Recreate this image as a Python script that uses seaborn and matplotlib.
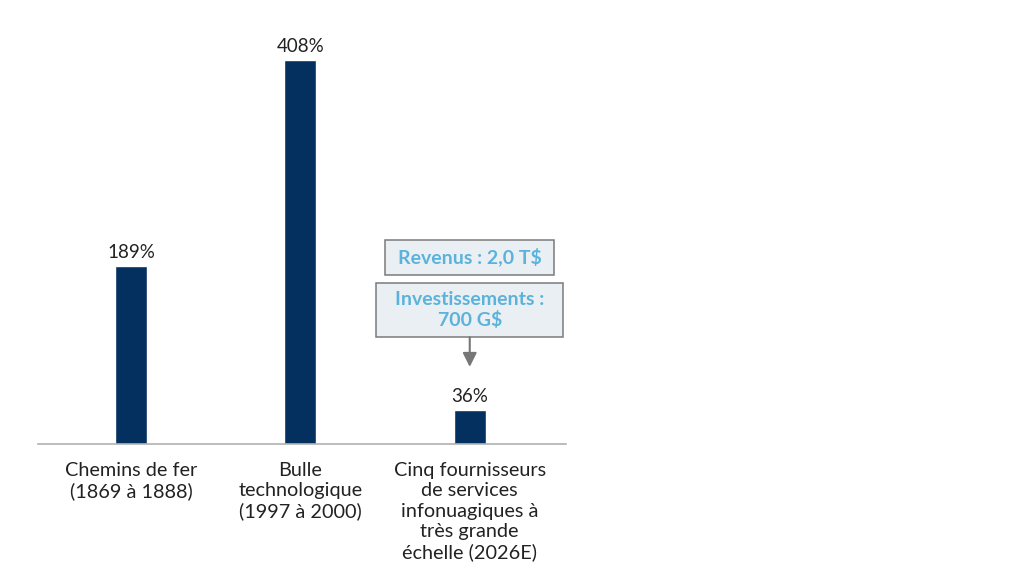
import matplotlib
matplotlib.use("Agg")
import matplotlib.pyplot as plt
from matplotlib.patches import Rectangle
import seaborn as sns
import pandas as pd

categories = ["Chemins de fer\n(1869 à 1888)",
              "Bulle\ntechnologique\n(1997 à 2000)",
              "Cinq fournisseurs\nde services\ninfonuagiques à\ntrès grande\néchelle (2026E)"]
values = [189, 408, 36]
value_labels = ["189%", "408%", "36%"]
box_revenus = "Revenus : 2,0 T$"
box_invest = "Investissements :\n700 G$"

sns.set_theme(style="white")
plt.rcParams['font.family'] = ['Lato', 'DejaVu Sans']

df = pd.DataFrame({"cat": categories, "val": values})

fig = plt.figure(figsize=(10.24, 5.85), dpi=100)
ax = fig.add_axes([0.037, 0.241, 0.516, 0.725])
sns.barplot(data=df, x="cat", y="val", color="#03305f", width=0.19,
            saturation=1, ax=ax)
ax.set_xlim(-0.55, 2.57)
ax.set_ylim(0, 451)
ax.set_xlabel("")
ax.set_ylabel("")
ax.set_yticks([])
for s in ["top", "right", "left"]:
    ax.spines[s].set_visible(False)
ax.spines["bottom"].set_color("#b0b0b0")
ax.spines["bottom"].set_linewidth(1.2)
ax.tick_params(axis="x", length=0, pad=13, labelsize=14.3, colors="#222222")
for lbl in ax.get_xticklabels():
    lbl.set_linespacing(1.23)

for i, (v, t) in enumerate(zip(values, value_labels)):
    ax.text(i, v + 6, t, ha="center", va="bottom", fontsize=13.5, color="#222222")

box_kw = dict(fc="#e9eff3", ec="#7a7a7a", lw=1.1, zorder=3)
ax.add_patch(Rectangle((1.50, 180.0), 0.997, 37.3, **box_kw))
ax.add_patch(Rectangle((1.444, 113.5), 1.106, 58.0, **box_kw))

ax.text(2, 199, box_revenus, ha="center", va="center", fontsize=14,
        fontweight="bold", color="#5bb3dc", zorder=4)
ax.text(2, 142.5, box_invest, ha="center", va="center", fontsize=14,
        fontweight="bold", color="#5bb3dc", linespacing=1.15, zorder=4)
ax.annotate("", xy=(2, 82), xytext=(2, 113.5),
            arrowprops=dict(arrowstyle="-|>,head_length=0.7,head_width=0.35",
                            color="#777777", lw=1.5, shrinkA=0, shrinkB=0))

fig.savefig("out.png", dpi=100)
